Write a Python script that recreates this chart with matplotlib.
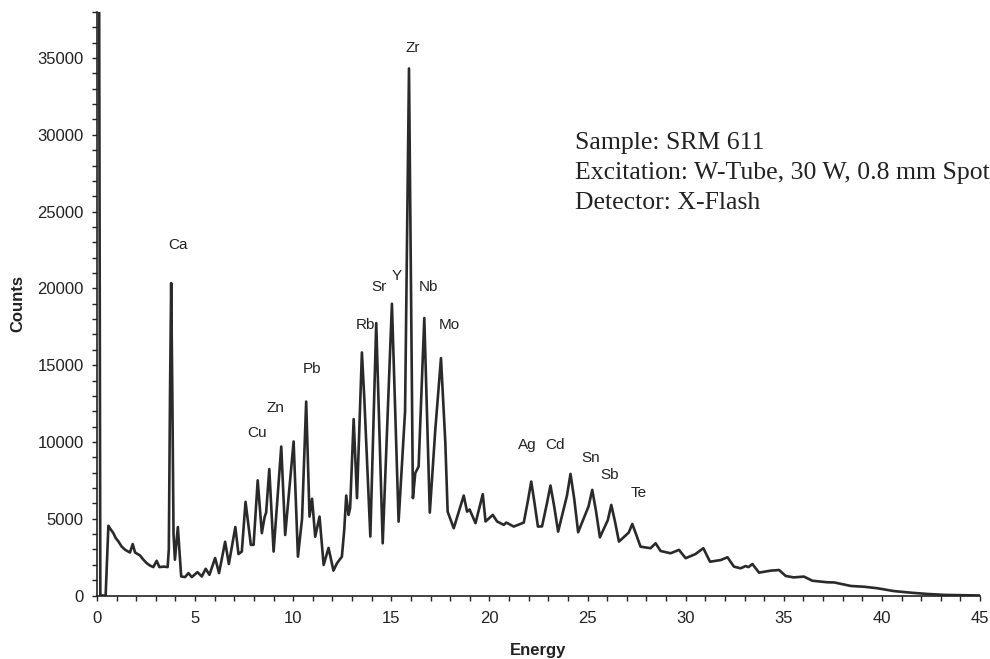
import matplotlib
matplotlib.use('Agg')
import matplotlib.pyplot as plt
from matplotlib.ticker import MultipleLocator, FixedLocator

# ---- data ----
energy = [0.00, 0.10, 0.17, 0.44, 0.58, 0.70, 0.83, 0.95, 1.09, 1.25, 1.43, 1.68, 1.82, 1.94,
          2.19, 2.35, 2.53, 2.70, 2.87, 3.04, 3.18, 3.40, 3.60, 3.66, 3.72, 3.78, 3.84, 3.90,
          3.97, 4.12, 4.29, 4.49, 4.66, 4.83, 5.12, 5.34, 5.54, 5.73, 6.02, 6.22, 6.53, 6.72,
          7.05, 7.21, 7.38, 7.57, 7.84, 7.98, 8.19, 8.40, 8.54, 8.62, 8.78, 9.00, 9.39, 9.59,
          10.02, 10.24, 10.45, 10.66, 10.83, 10.96, 11.12, 11.34, 11.55, 11.80, 12.05, 12.23,
          12.48, 12.60, 12.70, 12.82, 12.90, 13.08, 13.25, 13.50, 13.62, 13.93, 14.23, 14.56,
          15.03, 15.37, 15.70, 15.90, 16.10, 16.22, 16.39, 16.68, 16.96, 17.24, 17.53, 17.75,
          17.87, 18.18, 18.69, 18.86, 18.99, 19.29, 19.66, 19.80, 20.17, 20.39, 20.73, 20.86,
          21.24, 21.75, 21.95, 22.13, 22.30, 22.47, 22.68, 22.93, 23.11, 23.30, 23.50, 23.95,
          24.13, 24.32, 24.52, 25.05, 25.24, 25.43, 25.63, 26.03, 26.21, 26.40, 26.60, 27.10,
          27.28, 27.47, 27.70, 28.21, 28.47, 28.72, 29.23, 29.66, 30.00, 30.50, 30.90, 31.24,
          31.79, 32.13, 32.46, 32.80, 33.06, 33.20, 33.40, 33.74, 34.34, 34.76, 35.10, 35.50,
          36.03, 36.46, 37.23, 37.57, 38.42, 39.10, 39.78, 40.60, 41.50, 42.33, 43.20, 45.00]
counts = [45000, 45000, 0, 0, 4540, 4300, 4070, 3750, 3520, 3200, 2980, 2800, 3350, 2800,
          2610, 2350, 2110, 1950, 1850, 2260, 1850, 1880, 1850, 3000, 13000, 20350, 13000, 4000,
          2330, 4460, 1240, 1200, 1460, 1200, 1520, 1240, 1740, 1350, 2440, 1460, 3500, 2050,
          4460, 2700, 2860, 6100, 3300, 3300, 7500, 4060, 5100, 5400, 8230, 2860, 9700, 3940,
          10030, 2530, 5000, 12630, 5140, 6300, 3830, 5140, 1990, 3100, 1620, 2100,
          2530, 4270, 6510, 5250, 5700, 11490, 6340, 15830, 12900, 3840, 17740, 3400,
          19000, 4810, 12000, 34320, 6340, 7970, 8400, 18070, 5400, 10790, 15460, 10000,
          5460, 4380, 6510, 5460, 5600, 4710, 6600, 4820, 5250, 4820, 4600, 4750,
          4490, 4750, 6100, 7420, 6000, 4490, 4500, 6000, 7160, 5800, 4160, 6500,
          7920, 6300, 4120, 5800, 6880, 5500, 3790, 4900, 5900, 4800, 3510, 4100,
          4660, 4000, 3180, 3080, 3400, 2900, 2750, 2970, 2430, 2700, 3080, 2200,
          2310, 2490, 1880, 1770, 1920, 1850, 2050, 1490, 1620, 1660, 1270, 1180,
          1230, 960, 860, 850, 620, 570, 470, 290, 180, 100, 40, 0]

elements = ['Ca', 'Cu', 'Zn', 'Pb', 'Rb', 'Sr', 'Y', 'Zr', 'Nb', 'Mo',
            'Ag', 'Cd', 'Sn', 'Sb', 'Te']
label_energy = [4.13, 8.15, 9.08, 10.95, 13.67, 14.35, 15.29, 16.10, 16.87, 17.98,
                21.92, 23.36, 25.15, 26.14, 27.62]
label_counts = [22850, 10570, 12200, 14770, 17590, 20120, 20780, 35630, 20090, 17590,
                9810, 9810, 8940, 7850, 6660]

info_lines = ['Sample: SRM 611', 'Excitation: W-Tube, 30 W, 0.8 mm Spot', 'Detector: X-Flash']
x_ticks = [0, 5, 10, 15, 20, 25, 30, 35, 40, 45]
y_ticks = [0, 5000, 10000, 15000, 20000, 25000, 30000, 35000]

# ---- figure ----
W, H = 990, 659
fig = plt.figure(figsize=(W / 100, H / 100), dpi=100)
ax_l, ax_r, ax_b, ax_t = 97, 980, 595.5, 12
ax = fig.add_axes([ax_l / W, (H - ax_b) / H, (ax_r - ax_l) / W, (ax_b - ax_t) / H])

ink = '#222222'
ax.plot(energy, counts, color='#2a2a2a', lw=1.9, solid_joinstyle='round', clip_on=True)
ax.set_xlim(0, 45)
ax.set_ylim(0, 38000)

for s in ['top', 'right']:
    ax.spines[s].set_visible(False)
for s in ['left', 'bottom']:
    ax.spines[s].set_color(ink)
    ax.spines[s].set_linewidth(1.2)

ax.xaxis.set_major_locator(FixedLocator(x_ticks))
ax.xaxis.set_minor_locator(MultipleLocator(1))
ax.yaxis.set_major_locator(FixedLocator(y_ticks))
ax.yaxis.set_minor_locator(MultipleLocator(1000))
ax.tick_params(axis='both', which='both', direction='out', length=3.5, width=1.0, color=ink)
ax.tick_params(axis='x', which='major', pad=8, labelsize=12, labelcolor=ink)
ax.tick_params(axis='y', which='major', pad=6, labelsize=12, labelcolor=ink)
for lab in ax.get_xticklabels() + ax.get_yticklabels():
    lab.set_fontfamily('Liberation Sans')

ax.set_xlabel('Energy', fontsize=12, fontweight='bold', family='Liberation Sans', color=ink)
ax.set_ylabel('Counts', fontsize=12, fontweight='bold', family='Liberation Sans', color=ink)
ax.xaxis.set_label_coords(0.5, (ax_b - 650) / (ax_b - ax_t))
ax.xaxis.label.set_va('center')
ax.yaxis.set_label_coords((18 - ax_l) / (ax_r - ax_l), 0.5)
ax.yaxis.label.set_va('center')

for name, e, c in zip(elements, label_energy, label_counts):
    ax.text(e, c, name, ha='center', va='center', fontsize=11,
            family='Liberation Sans', color=ink)

for i, line in enumerate(info_lines):
    fig.text(575 / W, 1 - (143 + 30 * i) / H, line, ha='left', va='center',
             fontsize=18.5, family='Liberation Serif', color=ink)

fig.savefig('out.png', dpi=100)
